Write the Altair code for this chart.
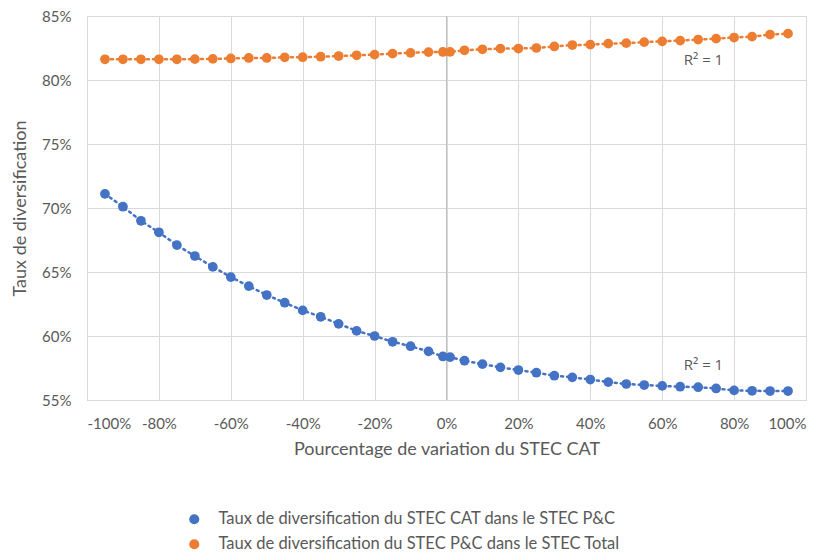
import altair as alt
import pandas as pd

x_pct = [-95, -90, -85, -80, -75, -70, -65, -60, -55, -50, -45, -40, -35, -30, -25, -20, -15, -10, -5, -1,
         1, 5, 10, 15, 20, 25, 30, 35, 40, 45, 50, 55, 60, 65, 70, 75, 80, 85, 90, 95]

cat_in_pc = [71.1, 70.1, 69.0, 68.1, 67.1, 66.25, 65.4, 64.6, 63.9, 63.2, 62.6, 62.0, 61.5, 60.95, 60.4, 60.0,
             59.55, 59.2, 58.8, 58.4, 58.35, 58.07, 57.8, 57.55, 57.34, 57.13, 56.9, 56.77, 56.6, 56.4, 56.25,
             56.17, 56.1, 56.04, 56.0, 55.9, 55.75, 55.72, 55.7, 55.7]

pc_in_total = [81.62, 81.62, 81.62, 81.62, 81.62, 81.63, 81.65, 81.68, 81.72, 81.72, 81.77, 81.78, 81.82, 81.87,
               81.93, 81.98, 82.06, 82.12, 82.18, 82.19, 82.2, 82.32, 82.4, 82.45, 82.46, 82.5, 82.62, 82.73,
               82.76, 82.84, 82.88, 82.96, 83.02, 83.08, 83.16, 83.23, 83.32, 83.39, 83.55, 83.62]

series_names = ["Taux de diversification du STEC CAT dans le STEC P&C",
                "Taux de diversification du STEC P&C dans le STEC Total"]
series_colors = ["#4472C4", "#ED7D31"]

r2_labels = ["R² = 1", "R² = 1"]
r2_x = [66, 66]
r2_y = [57.75, 81.55]

rows = []
for x, v in zip(x_pct, cat_in_pc):
    rows.append({"x": x / 100, "y": v / 100, "s": series_names[0]})
for x, v in zip(x_pct, pc_in_total):
    rows.append({"x": x / 100, "y": v / 100, "s": series_names[1]})
df = pd.DataFrame(rows)

ann = pd.DataFrame({"x": [v / 100 for v in r2_x], "y": [v / 100 for v in r2_y], "t": r2_labels})
zero = pd.DataFrame({"x": [0.0]})

FONT = "Lato"
GREY = "#595959"
LBL = "replace(format(datum.value, '.0%'), '\u2212', '-')"

xscale = alt.Scale(domain=[-1, 1], nice=False, zero=False)
yscale = alt.Scale(domain=[0.55, 0.85], nice=False, zero=False)

xaxis = alt.Axis(labelExpr=LBL, values=[-1, -0.8, -0.6, -0.4, -0.2, 0, 0.2, 0.4, 0.6, 0.8, 1],
                 title="Pourcentage de variation du STEC CAT", ticks=False, domain=True,
                 domainColor="#d9d9d9", gridColor="#d9d9d9", labelFont=FONT, labelFontSize=15,
                 labelColor=GREY, labelPadding=16, titleFont=FONT, titleFontSize=18,
                 titleFontWeight="normal", titleColor=GREY, titlePadding=9)
yaxis = alt.Axis(labelExpr=LBL, values=[0.55, 0.6, 0.65, 0.7, 0.75, 0.8, 0.85],
                 title="Taux de diversification", ticks=False, domain=False,
                 gridColor="#d9d9d9", labelFont=FONT, labelFontSize=15, labelColor=GREY,
                 labelPadding=16, titleFont=FONT, titleFontSize=18, titleFontWeight="normal",
                 titleColor=GREY, titlePadding=12)

color = alt.Color("s:N", scale=alt.Scale(domain=series_names, range=series_colors),
                  legend=alt.Legend(title=None, orient="none", legendX=99, legendY=495,
                                    direction="vertical", symbolType="circle", symbolSize=75,
                                    labelFont=FONT, labelFontSize=16.5, labelColor=GREY,
                                    labelLimit=0, rowPadding=8, labelOffset=16))

base = alt.Chart(df)

lines = base.mark_line(strokeDash=[2, 4], strokeWidth=2.5, strokeCap="round").encode(
    x=alt.X("x:Q", scale=xscale, axis=xaxis),
    y=alt.Y("y:Q", scale=yscale, axis=yaxis),
    color=color,
    detail="s:N",
)

pts = base.mark_circle(size=95, opacity=1).encode(
    x=alt.X("x:Q", scale=xscale),
    y=alt.Y("y:Q", scale=yscale),
    color=color,
)

zero_rule = alt.Chart(zero).mark_rule(color="#bfbfbf", strokeWidth=1).encode(
    x=alt.X("x:Q", scale=xscale)
)

text = alt.Chart(ann).mark_text(font="Open Sans", fontSize=15, color=GREY, align="left").encode(
    x=alt.X("x:Q", scale=xscale),
    y=alt.Y("y:Q", scale=yscale),
    text="t:N",
)

chart = alt.layer(zero_rule, lines, pts, text).properties(
    width=719, height=384,
    autosize=alt.AutoSizeParams(type="none"),
    padding={"left": 79, "top": 8, "right": 16, "bottom": 156},
).configure_view(stroke=None).configure(background="white")

chart.save("out.html", embed_options={"renderer": "svg", "actions": False})
